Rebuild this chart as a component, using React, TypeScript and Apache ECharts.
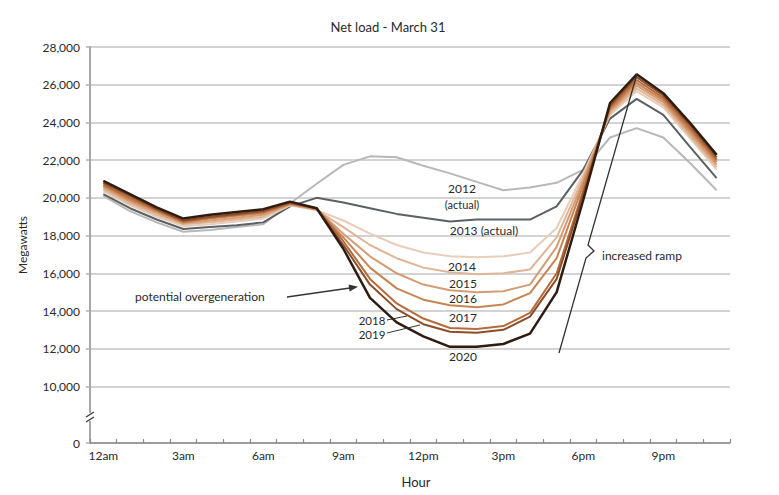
import React, { useEffect, useRef } from "react";
import * as echarts from "echarts";

const hours = [
  "12am", "1am", "2am", "3am", "4am", "5am", "6am", "7am", "8am", "9am", "10am", "11am",
  "12pm", "1pm", "2pm", "3pm", "4pm", "5pm", "6pm", "7pm", "8pm", "9pm", "10pm", "11pm",
];

const yTickValues = [7000, 10000, 12000, 14000, 16000, 18000, 20000, 22000, 24000, 26000, 28000];

const s2012 = [20100, 19300, 18700, 18200, 18300, 18450, 18600, 19700, 20750, 21750, 22200, 22150, 21700, 21300, 20850, 20400, 20550, 20800, 21500, 23200, 23700, 23200, 21850, 20400];
const s2013 = [20200, 19450, 18850, 18350, 18450, 18550, 18700, 19550, 20000, 19750, 19450, 19150, 18950, 18750, 18850, 18850, 18850, 19550, 21500, 24200, 25250, 24400, 22700, 21050];
const s2014 = [20350, 19600, 19000, 18500, 18600, 18750, 18900, 19600, 19350, 18800, 18100, 17500, 17100, 16900, 16850, 16900, 17100, 18400, 21300, 24400, 25650, 24800, 23150, 21500];
const s2015 = [20450, 19700, 19100, 18600, 18700, 18850, 19000, 19650, 19350, 18450, 17500, 16800, 16300, 16050, 15950, 16000, 16200, 17900, 21100, 24500, 25800, 24930, 23280, 21630];
const s2016 = [20550, 19800, 19200, 18650, 18800, 18950, 19100, 19650, 19400, 18100, 16900, 16000, 15400, 15100, 15000, 15050, 15400, 17400, 20900, 24600, 25950, 25060, 23420, 21760];
const s2017 = [20650, 19900, 19300, 18700, 18900, 19050, 19200, 19700, 19400, 17900, 16300, 15200, 14600, 14300, 14200, 14350, 14950, 16800, 20700, 24700, 26100, 25180, 23560, 21890];
const s2018 = [20700, 20000, 19350, 18750, 18950, 19100, 19250, 19700, 19450, 17700, 15700, 14400, 13600, 13100, 13050, 13200, 13900, 16000, 20400, 24800, 26250, 25300, 23700, 22020];
const s2019 = [20800, 20100, 19400, 18800, 19000, 19150, 19300, 19750, 19450, 17500, 15400, 14100, 13300, 12900, 12850, 13000, 13700, 15700, 20200, 24900, 26400, 25430, 23840, 22150];
const s2020 = [20900, 20200, 19500, 18900, 19100, 19250, 19400, 19800, 19450, 17300, 14700, 13400, 12650, 12100, 12100, 12250, 12800, 15000, 19900, 25030, 26550, 25550, 23980, 22280];

const seriesNames = ["2012", "2013", "2014", "2015", "2016", "2017", "2018", "2019", "2020"];
const seriesData = [s2012, s2013, s2014, s2015, s2016, s2017, s2018, s2019, s2020];
const seriesColors = ["#b8b8b8", "#5b6064", "#e8cdb8", "#dfb597", "#d49c74", "#c98454", "#b56b3b", "#8c4d29", "#2e1c12"];
const seriesWidths = [2, 2, 2, 2, 2, 2, 2, 2, 2.5];

const FONT = "Lato, 'DejaVu Sans', sans-serif";
const TXT = "#2a2a2a";

export default function App() {
  const ref = useRef<HTMLDivElement>(null);

  useEffect(() => {
    if (!ref.current) return;
    const chart = echarts.init(ref.current, null, { renderer: "svg" });

    const label = (text: string, x: number, y: number, size = 12, align = "center") => ({
      type: "text",
      x,
      y,
      z: 100,
      style: { text, fill: TXT, fontSize: size, fontFamily: FONT, align, verticalAlign: "middle" },
    });
    const seg = (x1: number, y1: number, x2: number, y2: number, w = 1.2) => ({
      type: "line",
      z: 100,
      shape: { x1, y1, x2, y2 },
      style: { stroke: "#333", lineWidth: w },
    });

    chart.setOption({
      animation: false,
      backgroundColor: "#ffffff",
      textStyle: { fontFamily: FONT },
      title: {
        text: "Net load - March 31",
        left: 383,
        top: 15,
        textAlign: "center",
        textStyle: { fontSize: 13, fontWeight: "normal", color: TXT, fontFamily: FONT },
      },
      grid: { left: 90, right: 49, top: 47, bottom: 52, containLabel: false },
      xAxis: {
        type: "category",
        data: hours,
        boundaryGap: true,
        name: "Hour",
        nameLocation: "middle",
        nameGap: 32,
        nameTextStyle: { fontSize: 13, color: TXT, fontFamily: FONT, padding: [0, 0, 0, 12] },
        axisLine: { show: true, lineStyle: { color: "#8a8a8a", width: 1.5 } },
        axisTick: { show: true, inside: true, length: 4, interval: 0, lineStyle: { color: "#8a8a8a", width: 1.2 } },
        axisLabel: {
          interval: 2,
          margin: 6,
          fontSize: 12,
          color: TXT,
          fontFamily: FONT,
          formatter: (v: string, i: number) => (i % 3 === 0 ? v : ""),
        },
        splitLine: { show: false },
      },
      yAxis: {
        type: "value",
        min: 7000,
        max: 28000,
        name: "Megawatts",
        nameLocation: "middle",
        nameGap: 62,
        nameRotate: 90,
        nameTextStyle: { fontSize: 12, color: TXT, fontFamily: FONT },
        axisLine: { show: true, lineStyle: { color: "#8a8a8a", width: 1.5 } },
        axisTick: { show: true, length: 4, customValues: yTickValues, lineStyle: { color: "#b0b0b0", width: 1.5 } },
        axisLabel: {
          customValues: yTickValues,
          margin: 10,
          fontSize: 12,
          color: TXT,
          fontFamily: FONT,
          formatter: (v: number) => (v === 7000 ? "0" : v.toLocaleString("en-US")),
        },
        splitLine: { show: true, lineStyle: { color: "#c4c4c4", width: 1.5 } },
      },
      series: seriesNames.map((name, i) => ({
        name,
        type: "line",
        data: seriesData[i],
        symbol: "none",
        smooth: false,
        z: 2 + i,
        lineStyle: { color: seriesColors[i], width: seriesWidths[i] },
        itemStyle: { color: seriesColors[i] },
      })),
      graphic: [
        // axis break marker
        { type: "rect", z: 100, shape: { x: 85, y: 413, width: 10, height: 8 }, style: { fill: "#ffffff" } },
        seg(86, 417, 94, 412, 1.2),
        seg(86, 422, 94, 417, 1.2),
        // year labels
        label("2012", 462, 188, 12),
        label("(actual)", 462, 204, 11),
        label("2013 (actual)", 484, 230, 12),
        label("2014", 462, 266, 12),
        label("2015", 463, 283, 12),
        label("2016", 463, 298, 12),
        label("2017", 463, 317, 12),
        label("2020", 463, 356, 12),
        label("2018", 372, 320, 11.5),
        label("2019", 372, 334, 11.5),
        seg(387, 320, 407, 316, 1),
        seg(387, 333, 420, 325, 1),
        // potential overgeneration
        label("potential overgeneration", 135, 296, 12, "left"),
        seg(287, 297, 350, 288, 1.3),
        {
          type: "polygon",
          z: 100,
          shape: { points: [[358, 286.8], [349.6, 291.6], [348.6, 284.6]] },
          style: { fill: "#333" },
        },
        // increased ramp
        label("increased ramp", 602, 255, 12, "left"),
        {
          type: "polyline",
          z: 100,
          shape: { points: [[559, 353], [586, 258], [594, 251], [588, 245], [637, 74]] },
          style: { stroke: "#333", lineWidth: 1.3, fill: "none" },
        },
      ],
    });

    return () => chart.dispose();
  }, []);

  return (
    <div
      ref={ref}
      style={{ position: "fixed", left: 0, top: 0, width: 779, height: 495, background: "#fff" }}
    />
  );
}
